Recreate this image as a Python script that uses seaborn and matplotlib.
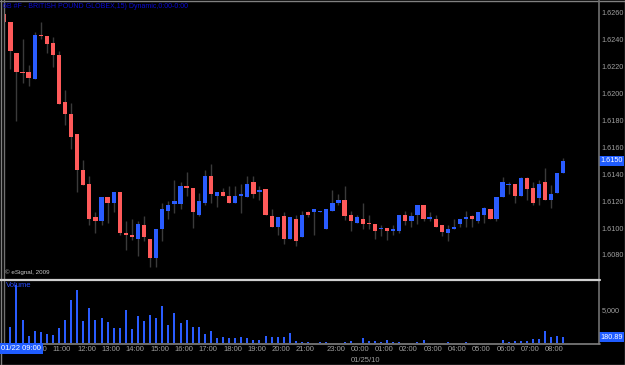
import numpy as np
import pandas as pd
import matplotlib
matplotlib.use("Agg")
import matplotlib.pyplot as plt
from matplotlib.lines import Line2D
import matplotlib.transforms as mtransforms
import seaborn as sns

# ---------------- data ----------------
title = "6B #F - BRITISH POUND GLOBEX,15) Dynamic,0:00-0:00"
open_ = [1.6259,1.6253,1.6230,1.6216,1.6216,1.6211,1.6244,1.6243,1.6238,1.6229,
         1.6194,1.6185,1.6170,1.6143,1.6133,1.6108,1.6105,1.6123,1.6119,1.6127,
         1.6096,1.6095,1.6092,1.6102,1.6092,1.6078,1.6099,1.6113,1.6118,1.6118,
         1.6131,1.6130,1.6110,1.6119,1.6139,1.6124,1.6127,1.6124,1.6119,1.6124,
         1.6123,1.6134,1.6127,1.6129,1.6109,1.6101,1.6109,1.6092,1.6107,1.6093,
         1.6112,1.6112,1.6112,1.6099,1.6113,1.6119,1.6121,1.6110,1.6104,1.6107,
         1.6104,1.6103,1.6099,1.6100,1.6098,1.6098,1.6110,1.6105,1.6110,1.6117,
         1.6107,1.6107,1.6102,1.6096,1.6099,1.6103,1.6107,1.6109,1.6105,1.6110,
         1.6114,1.6107,1.6123,1.6132,1.6133,1.6124,1.6137,1.6130,1.6122,1.6134,
         1.6121,1.6126,1.6141]
high = [1.6259,1.6253,1.6230,1.6241,1.6221,1.6246,1.6253,1.6243,1.6242,1.6232,
        1.6203,1.6193,1.6170,1.6151,1.6139,1.6112,1.6123,1.6123,1.6127,1.6127,
        1.6105,1.6107,1.6105,1.6109,1.6092,1.6099,1.6119,1.6120,1.6136,1.6134,
        1.6142,1.6130,1.6126,1.6143,1.6148,1.6127,1.6130,1.6131,1.6131,1.6133,
        1.6139,1.6139,1.6131,1.6129,1.6114,1.6108,1.6112,1.6108,1.6110,1.6113,
        1.6113,1.6114,1.6113,1.6114,1.6128,1.6125,1.6131,1.6113,1.6110,1.6119,
        1.6110,1.6103,1.6102,1.6100,1.6102,1.6110,1.6113,1.6112,1.6117,1.6117,
        1.6112,1.6110,1.6102,1.6102,1.6107,1.6107,1.6113,1.6110,1.6112,1.6116,
        1.6114,1.6123,1.6138,1.6134,1.6133,1.6138,1.6138,1.6134,1.6136,1.6145,
        1.6132,1.6141,1.6152]
low = [1.6253,1.6218,1.6180,1.6208,1.6206,1.6211,1.6241,1.6230,1.6220,1.6192,
       1.6177,1.6159,1.6127,1.6132,1.6102,1.6096,1.6102,1.6104,1.6112,1.6095,
       1.6084,1.6091,1.6079,1.6090,1.6071,1.6071,1.6090,1.6107,1.6111,1.6114,
       1.6124,1.6100,1.6109,1.6117,1.6119,1.6116,1.6124,1.6119,1.6119,1.6111,
       1.6123,1.6122,1.6121,1.6110,1.6101,1.6095,1.6088,1.6092,1.6087,1.6093,
       1.6108,1.6095,1.6112,1.6099,1.6113,1.6117,1.6106,1.6098,1.6104,1.6099,
       1.6099,1.6092,1.6094,1.6091,1.6095,1.6096,1.6102,1.6101,1.6103,1.6105,
       1.6105,1.6101,1.6094,1.6090,1.6099,1.6101,1.6101,1.6101,1.6104,1.6104,
       1.6107,1.6105,1.6123,1.6125,1.6119,1.6124,1.6121,1.6117,1.6117,1.6121,
       1.6115,1.6126,1.6141]
close = [1.6253,1.6232,1.6216,1.6215,1.6212,1.6244,1.6243,1.6237,1.6229,1.6192,
         1.6185,1.6168,1.6143,1.6132,1.6107,1.6105,1.6123,1.6119,1.6127,1.6096,
         1.6095,1.6093,1.6103,1.6093,1.6078,1.6099,1.6114,1.6117,1.6120,1.6131,
         1.6130,1.6112,1.6120,1.6139,1.6125,1.6127,1.6124,1.6119,1.6124,1.6125,
         1.6133,1.6125,1.6128,1.6110,1.6101,1.6108,1.6092,1.6108,1.6090,1.6110,
         1.6110,1.6114,1.6113,1.6114,1.6119,1.6121,1.6109,1.6105,1.6108,1.6103,
         1.6103,1.6098,1.6100,1.6098,1.6099,1.6110,1.6105,1.6109,1.6117,1.6107,
         1.6108,1.6101,1.6097,1.6099,1.6101,1.6107,1.6108,1.6107,1.6112,1.6115,
         1.6107,1.6123,1.6134,1.6133,1.6124,1.6137,1.6129,1.6119,1.6133,1.6121,
         1.6125,1.6141,1.6150]
volume = [950,2470,8830,3530,1110,1860,1710,1360,1170,2270,
          3530,6560,8075,3290,5300,3530,3740,3180,2270,2270,
          5045,2170,4135,3290,4290,3740,5560,2770,4545,2985,
          3485,2470,2470,1360,1860,710,865,710,710,955,
          760,500,410,1015,865,865,910,1470,350,100,
          100,50,100,150,50,50,150,300,50,760,
          300,300,150,500,150,150,50,50,150,455,
          50,50,50,150,50,50,150,50,50,50,
          50,50,410,200,300,350,350,560,650,1820,
          955,1060,865]
price_ticks = [1.6080,1.6100,1.6120,1.6140,1.6160,1.6180,1.6200,1.6220,1.6240,1.6260]
hour_pos = [4,8,12,16,20,24,28,32,36,40,44,48,53,57,61,65,69,73,77,81,85,89]
hour_labels = ["10:00","11:00","12:00","13:00","14:00","15:00","16:00","17:00",
               "18:00","19:00","20:00","21:00","23:00","00:00","01:00","02:00",
               "03:00","04:00","05:00","06:00","07:00","08:00"]
first_label = "01/22 09:00"
date_label = "01/25/10"
date_pos = 57
volume_tick = 5000
volume_box_label = "180.89"
copyright_text = "\u00a9 eSignal, 2009"

df = pd.DataFrame({"idx": np.arange(len(close)), "open": open_, "high": high,
                   "low": low, "close": close, "volume": volume})

# ---------------- style ----------------
sns.set_theme(style="dark", rc={"axes.facecolor": "black", "figure.facecolor": "black",
                                "savefig.facecolor": "black"})
plt.rcParams["font.family"] = ["Liberation Sans", "DejaVu Sans"]

RED = "#ff5a5a"
BLUE = "#2a5cff"
WICK = "#3a3a3a"
GRAY = "#a0a0a0"
BOXBLUE = "#1f5cff"
FS = 5.2

W, H = 625, 365
fig = plt.figure(figsize=(W / 100, H / 100), dpi=100)

ax = fig.add_axes([4 / W, 1 - 279 / H, 594 / W, 277 / H])
axv = fig.add_axes([4 / W, 1 - 343 / H, 594 / W, 62 / H])
for a in (ax, axv):
    a.set_facecolor("black")
    for s in a.spines.values():
        s.set_visible(False)
    a.grid(False)

# candlesticks
up = df["close"] >= df["open"]
colors = np.where(up, BLUE, RED)
body_bottom = np.minimum(df["open"], df["close"])
body_h = np.maximum(np.abs(df["close"] - df["open"]), 0.00009)
ax.vlines(df["idx"], df["low"], df["high"], colors=WICK, linewidth=1, zorder=2)
ax.bar(df["idx"], body_h, bottom=body_bottom, width=0.7, color=colors, linewidth=0, zorder=3)

def px_to_price(y):
    return 1.6260 - (y - 13) * 0.0000744

ax.set_ylim(px_to_price(279), px_to_price(2))
x0 = -0.05
ax.set_xlim(x0, x0 + 594 / 6.076)
ax.set_xticks([])
ax.yaxis.tick_right()
ax.set_yticks(price_ticks)
ax.set_yticklabels([f"{t:.4f}" for t in price_ticks])
ax.tick_params(axis="y", length=0, pad=2.5, labelsize=FS, labelcolor=GRAY,
               left=False, right=False, labelleft=False, labelright=True)
ax.set_xlabel("")
ax.set_ylabel("")

# last price box
trans = mtransforms.blended_transform_factory(ax.transAxes, ax.transData)
ax.text(1.0 + 2 / 594, close[-1], f"{close[-1]:.4f}", transform=trans, ha="left", va="center",
        fontsize=FS, color="white", zorder=10, clip_on=False,
        bbox=dict(boxstyle="square,pad=0.2", facecolor=BOXBLUE, edgecolor="none"))

# volume
sns.barplot(data=df, x="idx", y="volume", native_scale=True, color=BLUE, width=0.33,
            saturation=1, linewidth=0, ax=axv)
axv.set_xlim(x0, x0 + 594 / 6.076)
axv.set_ylim(0, 62 * 151.5)
axv.set_xlabel("")
axv.set_ylabel("")
axv.yaxis.tick_right()
axv.set_yticks([volume_tick])
axv.set_yticklabels([f"{volume_tick:,}"])
axv.tick_params(axis="y", length=0, pad=2.5, labelsize=FS, labelcolor=GRAY,
                left=False, right=False, labelleft=False, labelright=True)
axv.set_xticks(hour_pos)
axv.set_xticklabels(hour_labels, ha="left")
axv.tick_params(axis="x", length=0, pad=2, labelsize=5.5, labelcolor=GRAY, bottom=False)
transv = mtransforms.blended_transform_factory(axv.transAxes, axv.transData)
axv.text(1.0 + 2 / 594, volume[-1], volume_box_label, transform=transv, ha="left", va="center",
         fontsize=FS, color="white", zorder=10, clip_on=False,
         bbox=dict(boxstyle="square,pad=0.2", facecolor=BOXBLUE, edgecolor="none"))
axv.text(0.003, 0.98, "Volume", transform=axv.transAxes, ha="left", va="top",
         fontsize=5.5, color="#2a4cff")

# texts
fig.text(3 / W, 1 - 6.5 / H, title, ha="left", va="center", fontsize=5.0, color="#0a0ad8")
fig.text(5 / W, 1 - 272.5 / H, copyright_text, ha="left", va="center", fontsize=4.5, color="#c8c8c8")
fig.text(1 / W, 1 - 348.5 / H, first_label, ha="left", va="center", fontsize=5.5, color="white",
         zorder=10, bbox=dict(boxstyle="square,pad=0.3", facecolor=BOXBLUE, edgecolor="none"))
transd = mtransforms.blended_transform_factory(axv.transData, fig.transFigure)
fig.text(date_pos, 1 - 360 / H, date_label, transform=transd, ha="left", va="center",
         fontsize=5.5, color=GRAY)

# frame lines
def hline(y, x1, x2, color, lw=1):
    fig.add_artist(Line2D([x1 / W, x2 / W], [1 - y / H, 1 - y / H], color=color, lw=lw))

def vline(x, y1, y2, color, lw=1):
    fig.add_artist(Line2D([x / W, x / W], [1 - y1 / H, 1 - y2 / H], color=color, lw=lw))

hline(0.5, 0, W, "#808080")
hline(364.5, 0, W, "#808080")
vline(0.5, 0, H, "#808080")
vline(624.5, 0, H, "#808080")
vline(3.5, 0, 343, "#707070")
vline(599, 0, 344, "#707070", lw=1.2)
hline(279.8, 0, 600, "#d0d0d0", lw=1.6)
hline(343.5, 3, 600, "#808080", lw=1.2)

fig.savefig("out.png", dpi=100, facecolor="black")
